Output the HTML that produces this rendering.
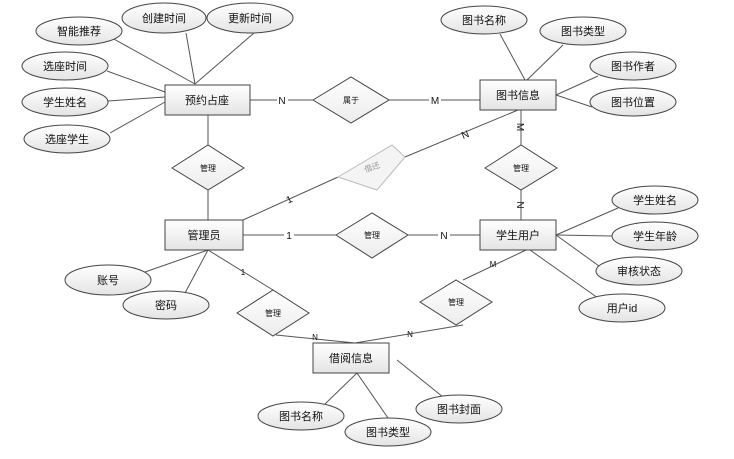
<!DOCTYPE html>
<html><head><meta charset="utf-8"><style>
html,body{margin:0;padding:0;background:#fff;}
svg{display:block;}
text{font-family:"Liberation Sans","Noto Sans CJK SC",sans-serif;fill:#111;}
</style></head><body>
<svg width="734" height="459" viewBox="0 0 734 459" xmlns="http://www.w3.org/2000/svg">
<defs>
<linearGradient id="g" x1="0" y1="0" x2="0" y2="1"><stop offset="0" stop-color="#ffffff"/><stop offset="1" stop-color="#e4e4e4"/></linearGradient>
<linearGradient id="gd" x1="0" y1="0" x2="0" y2="1"><stop offset="0" stop-color="#ffffff"/><stop offset="1" stop-color="#ececec"/></linearGradient>
</defs>
<g stroke="#555" stroke-width="1" fill="none">
<!-- 预约占座 attrs -->
<line x1="195" y1="84" x2="112" y2="38"/>
<line x1="195" y1="84" x2="186" y2="33"/>
<line x1="195" y1="84" x2="254" y2="33"/>
<line x1="165" y1="92" x2="107" y2="71"/>
<line x1="165" y1="97" x2="108" y2="101"/>
<line x1="165" y1="102" x2="110" y2="133"/>
<line x1="250" y1="100" x2="313" y2="100"/>
<line x1="389" y1="100" x2="480" y2="100"/>
<!-- 图书信息 attrs -->
<line x1="525" y1="80" x2="500" y2="34"/>
<line x1="527" y1="80" x2="563" y2="45"/>
<line x1="556" y1="95" x2="598" y2="76"/>
<line x1="556" y1="95" x2="592" y2="107"/>
<line x1="521" y1="110" x2="521" y2="145"/>
<line x1="521" y1="190" x2="521" y2="220"/>
<line x1="208" y1="115" x2="208" y2="145"/>
<line x1="208" y1="190" x2="208" y2="220"/>
<line x1="243" y1="220" x2="338" y2="177"/>
<line x1="405" y1="157" x2="518" y2="110"/>
<line x1="243" y1="235" x2="336" y2="235"/>
<line x1="408" y1="235" x2="480" y2="235"/>
<line x1="208" y1="250" x2="145" y2="272"/>
<line x1="208" y1="250" x2="185" y2="293"/>
<line x1="208" y1="250" x2="273" y2="290"/>
<line x1="276" y1="335" x2="355" y2="343"/>
<line x1="355" y1="343" x2="463" y2="325"/>
<line x1="463" y1="280" x2="526" y2="250"/>
<line x1="556" y1="235" x2="618" y2="208"/>
<line x1="556" y1="235" x2="612" y2="236"/>
<line x1="556" y1="235" x2="617" y2="279"/>
<line x1="530" y1="250" x2="598" y2="298"/>
<line x1="357" y1="373" x2="325" y2="404"/>
<line x1="357" y1="373" x2="388" y2="418"/>
<line x1="397" y1="360" x2="443" y2="397"/>
</g>
<!-- cardinality labels -->
<g font-size="10" text-anchor="middle">
<rect x="277" y="94" width="11" height="12" fill="#fff"/><text x="282" y="104">N</text>
<rect x="429" y="94" width="12" height="12" fill="#fff"/><text x="435" y="104">M</text>
<text x="521" y="131" transform="rotate(90 521 127)">M</text>
<text x="521" y="209" transform="rotate(90 521 205)">N</text>
<text x="289" y="203" transform="rotate(-25 289 199)">1</text>
<text x="465" y="138" transform="rotate(-22 465 134)">N</text>
<rect x="284" y="229" width="10" height="12" fill="#fff"/><text x="289" y="239">1</text>
<rect x="438" y="229" width="12" height="12" fill="#fff"/><text x="444" y="239">N</text>
<text x="243" y="275" font-size="8">1</text>
<text x="315" y="340" font-size="8">N</text>
<text x="410" y="337" font-size="8">N</text>
<text x="493" y="267" font-size="8">M</text>
</g>
<!-- rects -->
<g fill="url(#g)" stroke="#444" stroke-width="1">
<rect x="165" y="85" width="85" height="30"/>
<rect x="480" y="80" width="76" height="30"/>
<rect x="165" y="220" width="78" height="30"/>
<rect x="480" y="220" width="76" height="30"/>
<rect x="313" y="343" width="76" height="30"/>
</g>
<!-- diamonds -->
<g fill="url(#gd)" stroke="#444" stroke-width="1">
<polygon points="313,100 351,77 389,100 351,123"/>
<polygon points="172,168 208,145 244,168 208,190"/>
<polygon points="485,168 521,145 557,168 521,190"/>
<polygon points="336,235 372,213 408,235 372,258"/>
<polygon points="237,313 273,290 309,313 273,336"/>
<polygon points="420,302 456,280 492,302 456,325"/>
</g>
<polygon points="338,177 392,145 405,157 377,190" fill="#f4f4f4" stroke="#bbb"/>
<!-- ellipses -->
<g fill="url(#g)" stroke="#444" stroke-width="1">
<ellipse cx="79" cy="31" rx="43" ry="14"/>
<ellipse cx="164" cy="18" rx="42" ry="15"/>
<ellipse cx="250" cy="18" rx="43" ry="15"/>
<ellipse cx="65" cy="66" rx="43" ry="14"/>
<ellipse cx="65" cy="102" rx="43" ry="14"/>
<ellipse cx="67" cy="139" rx="43" ry="14"/>
<ellipse cx="484" cy="20" rx="43" ry="14"/>
<ellipse cx="583" cy="31" rx="43" ry="14"/>
<ellipse cx="633" cy="66" rx="43" ry="14"/>
<ellipse cx="633" cy="102" rx="43" ry="14"/>
<ellipse cx="655" cy="200" rx="43" ry="14"/>
<ellipse cx="655" cy="236" rx="43" ry="14"/>
<ellipse cx="639" cy="271" rx="43" ry="14"/>
<ellipse cx="622" cy="308" rx="43" ry="14"/>
<ellipse cx="108" cy="280" rx="43" ry="15"/>
<ellipse cx="166" cy="305" rx="43" ry="14"/>
<ellipse cx="301" cy="416" rx="43" ry="14"/>
<ellipse cx="388" cy="432" rx="43" ry="14"/>
<ellipse cx="459" cy="409" rx="43" ry="14"/>
</g>
<g font-size="11" text-anchor="middle">
<text x="79" y="35">智能推荐</text>
<text x="164" y="22">创建时间</text>
<text x="250" y="22">更新时间</text>
<text x="65" y="70">选座时间</text>
<text x="65" y="106">学生姓名</text>
<text x="67" y="143">选座学生</text>
<text x="484" y="24">图书名称</text>
<text x="583" y="35">图书类型</text>
<text x="633" y="70">图书作者</text>
<text x="633" y="106">图书位置</text>
<text x="655" y="204">学生姓名</text>
<text x="655" y="240">学生年龄</text>
<text x="639" y="275">审核状态</text>
<text x="622" y="312">用户id</text>
<text x="108" y="284">账号</text>
<text x="166" y="309">密码</text>
<text x="301" y="420">图书名称</text>
<text x="388" y="436">图书类型</text>
<text x="459" y="413">图书封面</text>
<text x="207" y="104">预约占座</text>
<text x="518" y="99">图书信息</text>
<text x="204" y="239">管理员</text>
<text x="518" y="239">学生用户</text>
<text x="351" y="362">借阅信息</text>
</g>
<g font-size="8" text-anchor="middle">
<text x="351" y="103">属于</text>
<text x="208" y="171">管理</text>
<text x="521" y="171">管理</text>
<text x="372" y="238">管理</text>
<text x="273" y="316">管理</text>
<text x="456" y="305">管理</text>
<text x="372" y="170" fill="#999" style="fill:#999" transform="rotate(-20 372 167)">借还</text>
</g>
</svg>
</body></html>
